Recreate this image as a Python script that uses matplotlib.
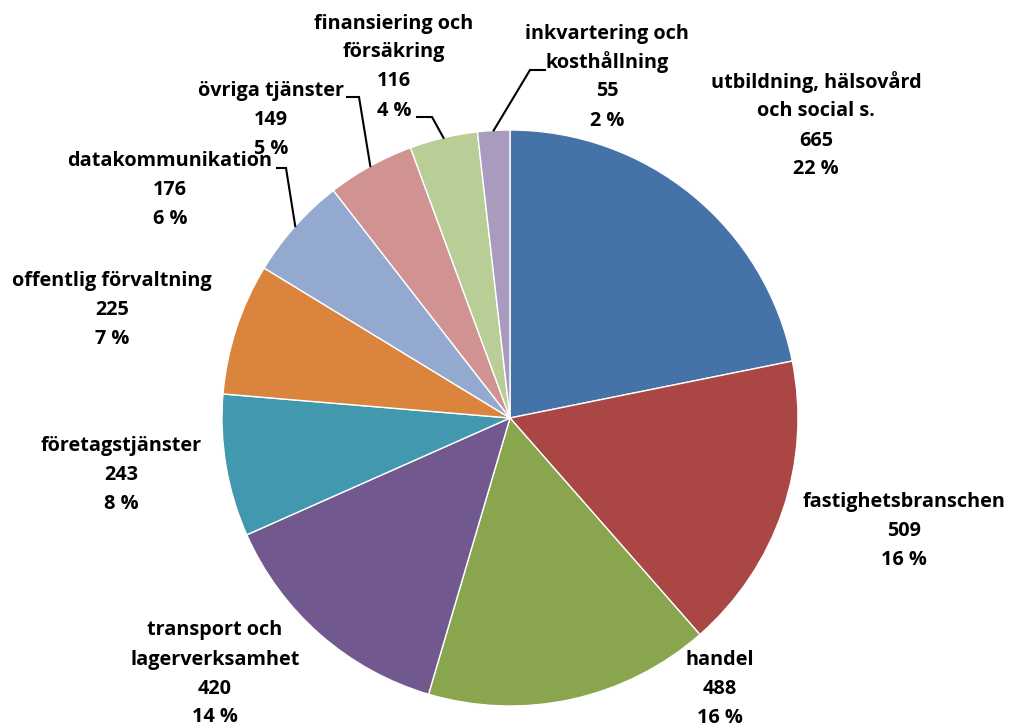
import numpy as np
import matplotlib
matplotlib.use("Agg")
import matplotlib.pyplot as plt

# values
categories = ["utbildning, hälsovård\noch social s.", "fastighetsbranschen", "handel",
              "transport och\nlagerverksamhet", "företagstjänster", "offentlig förvaltning",
              "datakommunikation", "övriga tjänster", "finansiering och\nförsäkring",
              "inkvartering och\nkosthållning"]
values = [665, 509, 488, 420, 243, 225, 176, 149, 116, 55]
percents = [22, 16, 16, 14, 8, 7, 6, 5, 4, 2]
colors = ["#4572A7", "#AA4643", "#89A54E", "#71588F", "#4198AF",
          "#DB843D", "#93A9CF", "#D19392", "#B9CD96", "#A99BBD"]

W, H = 1009, 727
fig = plt.figure(figsize=(W / 100, H / 100), dpi=100)
ax = fig.add_axes([0, 0, 1, 1])

cx, cy, r = 510, H - 418, 288
wedges, _ = ax.pie(values, colors=colors, startangle=90, counterclock=False,
                   center=(cx, cy), radius=r, frame=True,
                   wedgeprops=dict(edgecolor="white", linewidth=1))
ax.set_xlim(0, W)
ax.set_ylim(0, H)
ax.set_aspect("equal")
ax.axis("off")

# label block centres (pixels from top-left)
label_pos = [(816, 126), (904, 531), (720, 689), (215, 674), (121, 475),
             (112, 310), (170, 190), (271, 120), (394, 67), (607, 77)]
line_h = 29

for cat, v, p, (lx, ly) in zip(categories, values, percents, label_pos):
    lines = cat.split("\n") + [str(v), f"{p} %"]
    n = len(lines)
    for k, s in enumerate(lines):
        y = ly + (k - (n - 1) / 2) * line_h
        ax.text(lx, H - y, s, ha="center", va="center",
                fontsize=14.3, fontweight="bold", family="Open Sans", color="black")

# leader lines for the small slices: (wedge index, elbow start, elbow corner)
leaders = [(6, (277, 168), (286, 168)), (7, (347, 97), (359, 97)),
           (8, (417, 117), (432, 117)), (9, (545, 70), (530, 70))]
for i, p0, p1 in leaders:
    w = wedges[i]
    mid = np.deg2rad((w.theta1 + w.theta2) / 2)
    ex, ey = cx + r * np.cos(mid), cy + r * np.sin(mid)
    ax.plot([p0[0], p1[0], ex], [H - p0[1], H - p1[1], ey], color="black", lw=1.5,
            solid_joinstyle="miter")

fig.savefig("out.png", dpi=100)
